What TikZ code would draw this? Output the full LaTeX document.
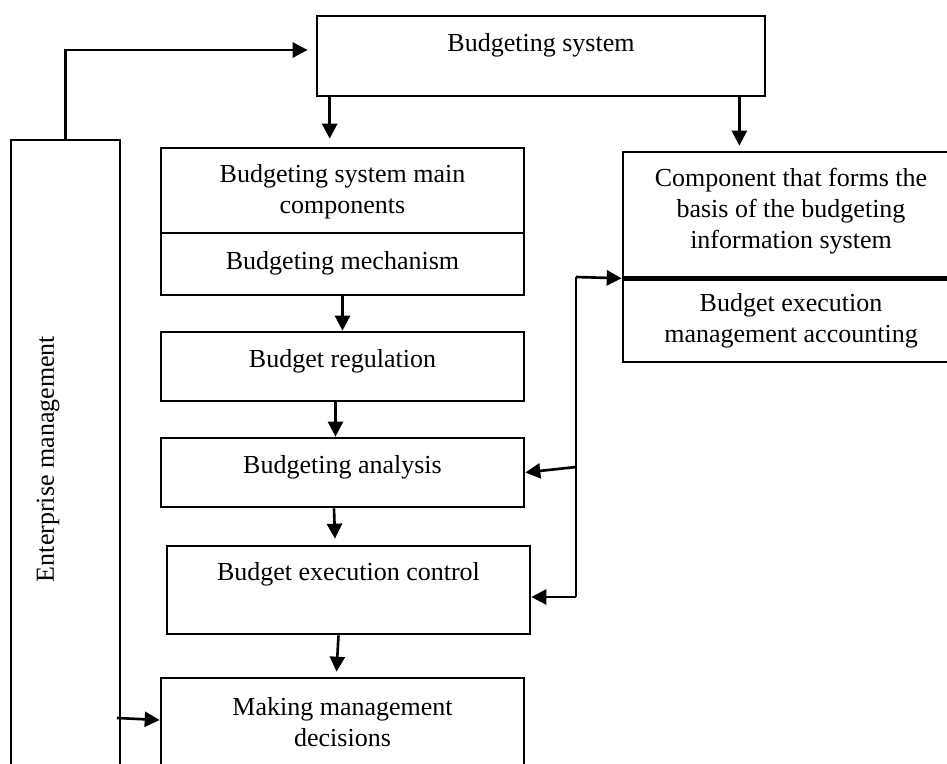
\documentclass[tikz,border=0pt]{standalone}
\usepackage{fontspec}
\setmainfont{Liberation Serif}
\usetikzlibrary{arrows.meta}
\tikzset{blk/.style={draw, rectangle, line width=1.5pt, inner sep=0pt},
  txt/.style={align=center, inner sep=1pt, font=\fontsize{14.8}{17.5}\selectfont},
  arr/.style={line width=1.5pt, -{Triangle[length=0.3cm,width=0.3cm]}}}
% box from (x1,y1) to (x2,y2), text centred at height #6
\newcommand\blockat[7]{\node[blk, minimum width={(#4-#2)*0.02cm}, minimum height={(#5-#3)*0.02cm}] (#1) at ({(#2+#4)/2},{(#3+#5)/2}) {};
  \node[txt] (#1t) at ({(#2+#4)/2},#6) {#7};}

\begin{document}
\begin{tikzpicture}[x=0.02cm, y=-0.02cm]
\clip (0,0) rectangle (947,764);
\blockat{sys}{317}{16}{765}{96}{45}{Budgeting system}
\blockat{ent}{11}{140}{120}{800}{459}{}
\node[txt, rotate=90] (entt) at (48,459) {Enterprise management};
\blockat{comp}{161}{148}{524}{233}{192}{Budgeting system main\\components}
\blockat{mech}{161}{233}{524}{295}{263}{Budgeting mechanism}
\blockat{reg}{161}{332}{524}{401}{361}{Budget regulation}
\blockat{ana}{161}{438}{524}{507}{467}{Budgeting analysis}
\blockat{ctrl}{167}{546}{530}{634}{574}{Budget execution control}
\blockat{dec}{161}{678}{524}{800}{722}{Making management\\decisions}
\blockat{rtop}{623}{152}{959}{277}{211}{Component that forms the\\basis of the budgeting\\information system}
\blockat{rbot}{623}{277}{959}{362}{321}{Budget execution\\management accounting}
\draw[line width=2.8pt] (rtop.south west) -- (rtop.south east);

% feedback loop on the right
\coordinate (jt) at (576,277);
\coordinate (jm) at (576,467);
\coordinate (jb) at (576,597);
\coordinate (ed) at (117,718);

\draw[arr, shorten >=0.16cm] (ent.north) |- ([yshift=0.12cm]sys.west);
\draw[arr] ([xshift=0.28cm]sys.south west) -- ([xshift=0.28cm,yshift=0.16cm]sys.south west |- comp.north);
\draw[arr] ([xshift=-0.54cm]sys.south east) -- ([xshift=-0.54cm,yshift=0.1cm]sys.south east |- rtop.north);
\draw[arr] (mech.south) -- (reg.north);
\draw[arr] ([xshift=-0.14cm]reg.south) -- ([xshift=-0.14cm]ana.north);
\draw[arr] ([xshift=-0.17cm]ana.south) -- ([xshift=-0.27cm,yshift=0.12cm]ctrl.north);
\draw[arr] ([xshift=-0.2cm]ctrl.south) -- ([xshift=-0.12cm,yshift=0.1cm]dec.north);
\draw[arr] (jt) -- (rtop.south west);
\draw[line width=1.5pt] (jt) -- (jb);
\draw[arr] (jm) -- (ana.east);
\draw[arr] (jb) -- (jb -| ctrl.east);
\draw[arr] (ed) -- ([yshift=0.38cm]dec.west);
\end{tikzpicture}
\end{document}
